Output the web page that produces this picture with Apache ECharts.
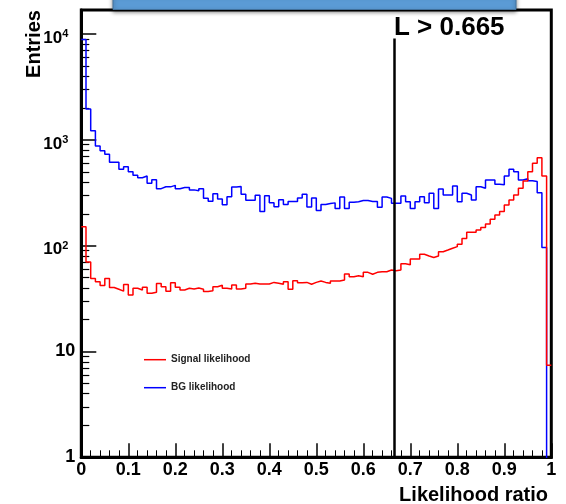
<!DOCTYPE html>
<html>
<head>
<meta charset="utf-8">
<script src="https://cdn.jsdelivr.net/npm/echarts@6/dist/echarts.min.js"></script>
<style>
html, body { margin: 0; padding: 0; background: #fff; }
#chart { width: 566px; height: 504px; }
</style>
</head>
<body>
<div id="chart"></div>
<script>
// 100 bins of width 0.01 on [0, 1]
var binWidth = 0.01;

var signalCounts = [
	151, 70, 49, 45.7, 42, 49, 40.2, 38.7, 37.2, 43,
	34.2, 39.6, 38.1, 40.4, 35.5, 36.3, 44, 41, 37.2, 44.7,
	40.4, 38.1, 39.6, 39, 39.9, 38.7, 36.9, 37.5, 41, 42.3,
	39.6, 39, 42.5, 39, 39.6, 43.5, 44.2, 43.5, 43.5, 43.5,
	45, 44.2, 43.2, 45.7, 38.7, 46.7, 44.7, 45, 43.2, 45,
	46.3, 45, 44.2, 46.3, 46.3, 47.4, 54, 50.9, 52, 50.9,
	56, 53.7, 56, 56.8, 56.8, 58.9, 58.1, 58.9, 67.4, 66,
	74.8, 74.8, 83, 80, 77.5, 80, 87.8, 91, 94.5, 98,
	103, 117, 134, 134, 141, 149, 160, 178, 195, 210,
	243, 270, 301, 349, 408, 500, 601, 680, 456, 7.4
];

var bgCounts = [
	8900, 1960, 1220, 875, 790, 730, 615, 615, 527, 558,
	500, 463, 439, 456, 389, 421, 346, 361, 360, 372,
	346, 355, 355, 337, 330, 346, 281, 263, 310, 276,
	244, 290, 358, 362, 306, 269, 269, 300, 210, 297,
	255, 234, 272, 245, 262, 262, 282, 306, 232, 282,
	215, 245, 250, 254, 225, 289, 225, 258, 260, 268,
	268, 262, 262, 231, 289, 280, 252, 252, 295, 261,
	225, 261, 290, 255, 313, 225, 344, 301, 301, 367,
	261, 313, 301, 270, 361, 349, 418, 418, 380, 377,
	456, 527, 500, 418, 430, 411, 405, 316, 96, 0
];

var yMajorTicks = [1, 10, 100, 1000, 10000];
var yMinorTicks = [
	2, 3, 4, 5, 6, 7, 8, 9,
	20, 30, 40, 50, 60, 70, 80, 90,
	200, 300, 400, 500, 600, 700, 800, 900,
	2000, 3000, 4000, 5000, 6000, 7000, 8000, 9000
];
var yMin = 1;
var yMax = 16900;

var cutValue = 0.665;
var cutLineTop = 9100;

var FONT = "'Liberation Sans', Arial, Helvetica, sans-serif";

// empty bins sit below the log axis and get clipped
function toSteps(counts) {
	var pts = [];
	for (var i = 0; i < counts.length; i++) {
		var c = counts[i] > 0 ? counts[i] : 0.1;
		pts.push([+(i * binWidth).toFixed(2), c]);
	}
	pts.push([1, pts[pts.length - 1][1]]);
	return pts;
}

function yLabel(v) {
	if (v === 1) return '{p|1}';
	if (v === 10) return '{p|10}';
	var e = Math.round(Math.log(v) / Math.LN10);
	return '{b|10}{e|' + e + '}';
}

var chart = echarts.init(document.getElementById('chart'));

var option = {
	animation : false,
	backgroundColor : '#fff',
	grid : {
		left : 81.3,
		right : 14.7,
		top : 10,
		bottom : 46.7,
		show : true,
		borderColor : '#000',
		borderWidth : 3
	},
	legend : {
		orient : 'vertical',
		left : 144,
		top : 354.7,
		padding : 0,
		icon : 'rect',
		itemWidth : 22,
		itemHeight : 1.5,
		itemGap : 18,
		selectedMode : false,
		data : [ 'Signal likelihood', 'BG likelihood' ],
		textStyle : {
			fontFamily : FONT,
			fontSize : 10,
			fontWeight : 'bold',
			color : '#222',
			lineHeight : 10
		}
	},
	xAxis : {
		type : 'value',
		min : 0,
		max : 1,
		interval : 0.1,
		axisLine : { lineStyle : { color : '#000', width : 3 } },
		axisTick : { inside : true, length : 14, lineStyle : { color : '#000', width : 1.5 } },
		minorTick : { show : true, splitNumber : 5, length : 7, lineStyle : { color : '#000', width : 1 } },
		splitLine : { show : false },
		axisLabel : {
			margin : 4,
			fontFamily : FONT,
			fontSize : 18,
			fontWeight : 'bold',
			color : '#000'
		}
	},
	yAxis : [ {
		type : 'log',
		logBase : 10,
		min : yMin,
		max : yMax,
		axisLine : { show : true, lineStyle : { color : '#000', width : 3 } },
		axisTick : { inside : true, length : 15, customValues : yMajorTicks, lineStyle : { color : '#000', width : 1.5 } },
		splitLine : { show : false },
		axisLabel : {
			customValues : yMajorTicks,
			margin : 6,
			color : '#000',
			formatter : yLabel,
			rich : {
				p : { fontFamily : FONT, fontSize : 18, fontWeight : 'bold', color : '#000' },
				b : { fontFamily : FONT, fontSize : 17, fontWeight : 'bold', color : '#000', padding : [ 8, 0, 0, 0 ], lineHeight : 17 },
				e : { fontFamily : FONT, fontSize : 11, fontWeight : 'bold', color : '#000', verticalAlign : 'top', lineHeight : 11, padding : [ 3, 7, 0, 0 ] }
			}
		}
	}, {
		type : 'log',
		logBase : 10,
		min : yMin,
		max : yMax,
		position : 'left',
		axisLine : { show : false },
		axisLabel : { show : false },
		splitLine : { show : false },
		axisTick : { inside : true, length : 8, customValues : yMinorTicks, lineStyle : { color : '#000', width : 1.2 } }
	} ],
	series : [ {
		name : 'BG likelihood',
		type : 'line',
		step : 'end',
		symbol : 'none',
		silent : true,
		clip : true,
		color : '#0000ff',
		lineStyle : { color : '#0000ff', width : 1.5 },
		data : toSteps(bgCounts),
		z : 2
	}, {
		name : 'Signal likelihood',
		type : 'line',
		step : 'end',
		symbol : 'none',
		silent : true,
		clip : true,
		color : '#ff0000',
		lineStyle : { color : '#ff0000', width : 1.5 },
		data : toSteps(signalCounts),
		z : 3,
		markLine : {
			silent : true,
			symbol : 'none',
			label : { show : false },
			lineStyle : { color : '#000', width : 2.5, type : 'solid' },
			data : [ [ { coord : [ cutValue, yMin ] }, { coord : [ cutValue, cutLineTop ] } ] ]
		}
	} ],
	graphic : [ {
		type : 'rect',
		shape : { x : 113, y : -6, width : 403, height : 15.5 },
		style : {
			fill : '#5b9bd5',
			stroke : '#41719c',
			lineWidth : 1,
			shadowBlur : 4,
			shadowOffsetY : 2,
			shadowColor : 'rgba(0,0,0,0.45)'
		},
		z : 100
	}, {
		type : 'text',
		x : 394,
		y : 28,
		style : {
			text : 'L > ' + cutValue,
			font : 'bold 26px ' + FONT,
			fill : '#000',
			textAlign : 'left',
			textVerticalAlign : 'middle',
			verticalAlign : 'middle'
		},
		z : 100
	}, {
		type : 'text',
		x : 34,
		y : 44,
		rotation : Math.PI / 2,
		style : {
			text : 'Entries',
			font : 'bold 20px ' + FONT,
			fill : '#000',
			textAlign : 'center',
			textVerticalAlign : 'middle',
			verticalAlign : 'middle'
		}
	}, {
		type : 'text',
		x : 548,
		y : 495.5,
		style : {
			text : 'Likelihood ratio',
			font : 'bold 20px ' + FONT,
			fill : '#000',
			textAlign : 'right',
			textVerticalAlign : 'middle',
			verticalAlign : 'middle'
		}
	} ]
};

chart.setOption(option);
</script>
</body>
</html>
